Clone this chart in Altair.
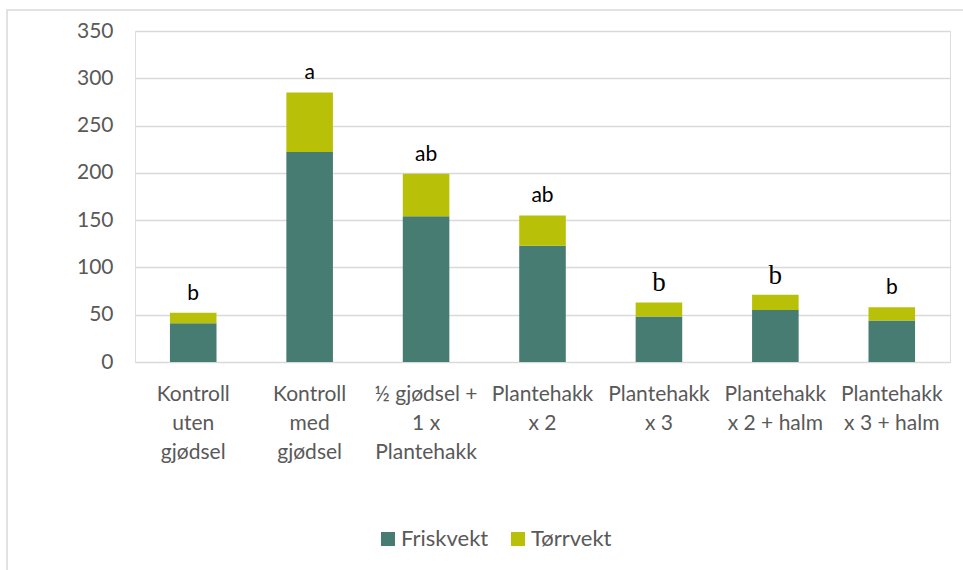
import altair as alt
import pandas as pd

# Treatments (line breaks in the axis labels marked with "|")
categories = [
    "Kontroll|uten|gjødsel",
    "Kontroll|med|gjødsel",
    "½ gjødsel +|1 x|Plantehakk",
    "Plantehakk|x 2",
    "Plantehakk|x 3",
    "Plantehakk|x 2 + halm",
    "Plantehakk|x 3 + halm",
]
friskvekt = [41, 222, 154, 123, 48, 55, 44]
torrvekt = [11, 63, 45, 32, 15, 16, 14]
letters = ["b", "a", "ab", "ab", "b", "b", "b"]
# letters typeset in a serif face
serif_flags = [False, False, False, False, True, True, False]

series = ["Friskvekt", "Tørrvekt"]
colors = ["#467C72", "#B8C108"]

rows = []
for c, f, t in zip(categories, friskvekt, torrvekt):
    rows.append({"kat": c, "serie": series[0], "verdi": f, "rekke": 0})
    rows.append({"kat": c, "serie": series[1], "verdi": t, "rekke": 1})
bars_df = pd.DataFrame(rows)

labels_df = pd.DataFrame({
    "kat": categories,
    "total": [f + t for f, t in zip(friskvekt, torrvekt)],
    "bokstav": letters,
    "serif": serif_flags,
})

FONT = "Lato"
GREY = "#595959"
GRID = "#D9D9D9"

x_enc = alt.X(
    "kat:N", sort=categories, title=None,
    scale=alt.Scale(paddingInner=0.6, paddingOuter=0.3),
    axis=alt.Axis(
        labelExpr="split(datum.label, '|')", labelAngle=0,
        labelFont=FONT, labelFontSize=21, labelColor=GREY,
        labelLineHeight=29, labelPadding=21, ticks=False,
        domain=False, labelBaseline="top",
    ),
)

bars = alt.Chart(bars_df).mark_bar().encode(
    x=x_enc,
    y=alt.Y(
        "sum(verdi):Q", stack="zero", title=None,
        scale=alt.Scale(domain=[0, 350], nice=False),
        axis=alt.Axis(
            values=list(range(0, 351, 50)), labelFont=FONT, labelFontSize=21,
            labelColor=GREY, labelPadding=22, ticks=False, domain=False,
            gridColor=GRID, gridWidth=1.5,
        ),
    ),
    color=alt.Color(
        "serie:N", sort=series, title=None,
        scale=alt.Scale(domain=series, range=colors),
        legend=alt.Legend(
            orient="none", direction="horizontal", legendX=242, legendY=497,
            symbolType="square", symbolSize=196, symbolStrokeWidth=0,
            labelFont=FONT, labelFontSize=22, labelColor=GREY,
            columnPadding=18, labelOffset=2,
        ),
    ),
    order=alt.Order("rekke:Q"),
)

text_base = alt.Chart(labels_df).encode(
    x=alt.X("kat:N", sort=categories),
    y=alt.Y("total:Q"),
    text="bokstav:N",
)
text_sans = text_base.transform_filter("!datum.serif").mark_text(
    font=FONT, fontSize=21, color="black", baseline="alphabetic", dy=-13
)
text_serif = text_base.transform_filter("datum.serif").mark_text(
    font="Liberation Serif", fontSize=27, color="black", baseline="alphabetic", dy=-11
)

# light frame around the whole figure
frame = alt.Chart(alt.Data(values=[{}])).mark_rect(
    fill=None, stroke=GRID, strokeWidth=1.5
).encode(
    x=alt.value(-128), x2=alt.value(900), y=alt.value(-21), y2=alt.value(600),
)

chart = alt.layer(frame, bars, text_sans, text_serif).properties(
    width=815, height=331,
    autosize=alt.AutoSizeParams(type="none"),
    padding={"left": 135, "top": 31, "right": 13, "bottom": 208},
).configure_view(stroke=None).configure(background="white")

chart.save("out.html", embed_options={"renderer": "svg", "actions": False})
